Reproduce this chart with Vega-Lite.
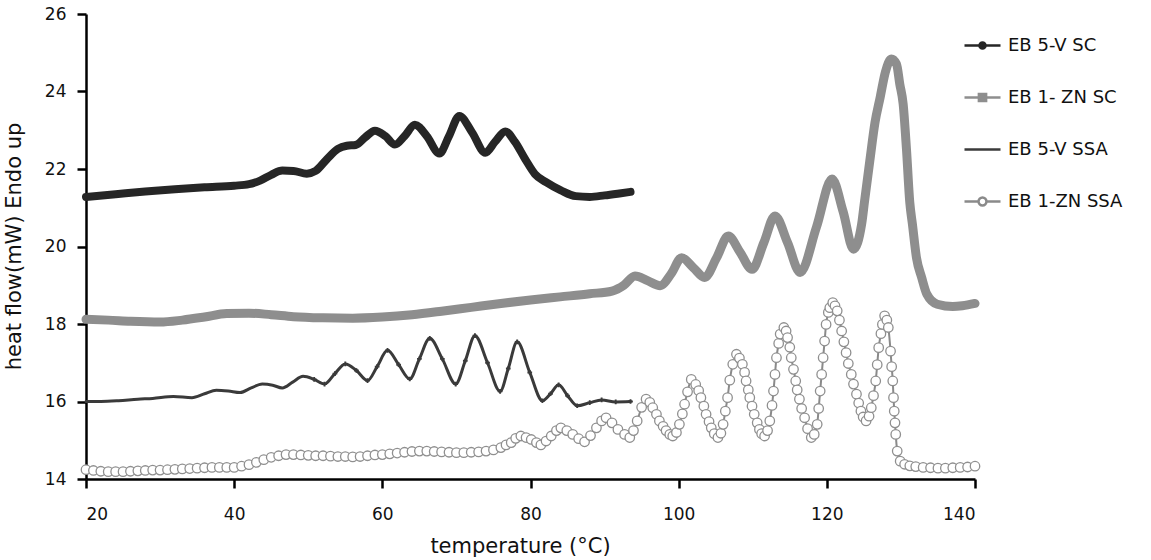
{
  "$schema": "https://vega.github.io/schema/vega-lite/v6.json",
  "autosize": {"type": "none"},
  "width": 889,
  "height": 465,
  "padding": {"left": 86, "top": 14, "right": 176, "bottom": 81},
  "background": "white",
  "config": {
    "view": {"stroke": null},
    "font": "DejaVu Sans",
    "axis": {
      "grid": false,
      "domainColor": "#000",
      "domainWidth": 2.5,
      "tickColor": "#000",
      "tickWidth": 2.5,
      "tickSize": 9,
      "labelFont": "DejaVu Sans",
      "labelFontSize": 17,
      "labelColor": "#111",
      "titleFont": "DejaVu Sans",
      "titleFontSize": 21,
      "titleFontWeight": "normal",
      "titleColor": "#111"
    },
    "legend": {
      "orient": "none", "legendX": 877, "legendY": 12, "title": null,
      "padding": 0, "symbolSize": 1296, "symbolStrokeWidth": 2.5,
      "labelFont": "DejaVu Sans", "labelFontSize": 18, "labelColor": "#111", "labelOffset": 6, "rowPadding": 23
    }
  },
  "data": {
    "values": [
      {"s":"EB 5-V SC","t":20,"v":21.28},{"s":"EB 5-V SC","t":24,"v":21.35},{"s":"EB 5-V SC","t":28,"v":21.42},{"s":"EB 5-V SC","t":32,"v":21.48},{"s":"EB 5-V SC","t":36,"v":21.53},{"s":"EB 5-V SC","t":40,"v":21.57},{"s":"EB 5-V SC","t":42,"v":21.61},{"s":"EB 5-V SC","t":43.5,"v":21.7},{"s":"EB 5-V SC","t":45,"v":21.85},{"s":"EB 5-V SC","t":46.5,"v":21.96},{"s":"EB 5-V SC","t":48,"v":21.95},{"s":"EB 5-V SC","t":49.8,"v":21.88},{"s":"EB 5-V SC","t":51,"v":21.95},{"s":"EB 5-V SC","t":52.5,"v":22.25},{"s":"EB 5-V SC","t":54,"v":22.52},{"s":"EB 5-V SC","t":55.2,"v":22.6},{"s":"EB 5-V SC","t":56.4,"v":22.62},{"s":"EB 5-V SC","t":57.7,"v":22.82},{"s":"EB 5-V SC","t":59,"v":22.99},{"s":"EB 5-V SC","t":60.4,"v":22.85},{"s":"EB 5-V SC","t":61.7,"v":22.63},{"s":"EB 5-V SC","t":63,"v":22.85},{"s":"EB 5-V SC","t":64.4,"v":23.14},{"s":"EB 5-V SC","t":66,"v":22.85},{"s":"EB 5-V SC","t":67.7,"v":22.4},{"s":"EB 5-V SC","t":69,"v":22.85},{"s":"EB 5-V SC","t":70.4,"v":23.37},{"s":"EB 5-V SC","t":72.1,"v":22.95},{"s":"EB 5-V SC","t":73.9,"v":22.42},{"s":"EB 5-V SC","t":75.2,"v":22.7},{"s":"EB 5-V SC","t":76.6,"v":22.97},{"s":"EB 5-V SC","t":77.9,"v":22.7},{"s":"EB 5-V SC","t":79.3,"v":22.25},{"s":"EB 5-V SC","t":80.6,"v":21.87},{"s":"EB 5-V SC","t":82.1,"v":21.66},{"s":"EB 5-V SC","t":84.1,"v":21.45},{"s":"EB 5-V SC","t":86.1,"v":21.3},{"s":"EB 5-V SC","t":88,"v":21.28},{"s":"EB 5-V SC","t":90,"v":21.32},{"s":"EB 5-V SC","t":92,"v":21.37},{"s":"EB 5-V SC","t":93.5,"v":21.41},

      {"s":"EB 1- ZN SC","t":20,"v":18.12},{"s":"EB 1- ZN SC","t":23,"v":18.1},{"s":"EB 1- ZN SC","t":26,"v":18.07},{"s":"EB 1- ZN SC","t":30,"v":18.05},{"s":"EB 1- ZN SC","t":33,"v":18.1},{"s":"EB 1- ZN SC","t":36,"v":18.18},{"s":"EB 1- ZN SC","t":39,"v":18.27},{"s":"EB 1- ZN SC","t":42,"v":18.28},{"s":"EB 1- ZN SC","t":45,"v":18.24},{"s":"EB 1- ZN SC","t":48,"v":18.19},{"s":"EB 1- ZN SC","t":52,"v":18.16},{"s":"EB 1- ZN SC","t":56,"v":18.15},{"s":"EB 1- ZN SC","t":60,"v":18.18},{"s":"EB 1- ZN SC","t":64,"v":18.24},{"s":"EB 1- ZN SC","t":68,"v":18.33},{"s":"EB 1- ZN SC","t":72,"v":18.43},{"s":"EB 1- ZN SC","t":76,"v":18.53},{"s":"EB 1- ZN SC","t":80,"v":18.62},{"s":"EB 1- ZN SC","t":84,"v":18.7},{"s":"EB 1- ZN SC","t":88,"v":18.78},{"s":"EB 1- ZN SC","t":91,"v":18.85},{"s":"EB 1- ZN SC","t":92.6,"v":19.0},{"s":"EB 1- ZN SC","t":94.1,"v":19.24},{"s":"EB 1- ZN SC","t":95.8,"v":19.12},{"s":"EB 1- ZN SC","t":97.5,"v":18.99},{"s":"EB 1- ZN SC","t":99,"v":19.3},{"s":"EB 1- ZN SC","t":100.4,"v":19.71},{"s":"EB 1- ZN SC","t":102,"v":19.45},{"s":"EB 1- ZN SC","t":103.5,"v":19.2},{"s":"EB 1- ZN SC","t":105.1,"v":19.7},{"s":"EB 1- ZN SC","t":106.7,"v":20.27},{"s":"EB 1- ZN SC","t":108.3,"v":19.85},{"s":"EB 1- ZN SC","t":109.9,"v":19.41},{"s":"EB 1- ZN SC","t":111.5,"v":20.1},{"s":"EB 1- ZN SC","t":113,"v":20.79},{"s":"EB 1- ZN SC","t":114.7,"v":20.1},{"s":"EB 1- ZN SC","t":116.4,"v":19.33},{"s":"EB 1- ZN SC","t":118.6,"v":20.5},{"s":"EB 1- ZN SC","t":120.7,"v":21.74},{"s":"EB 1- ZN SC","t":122.2,"v":20.9},{"s":"EB 1- ZN SC","t":123.6,"v":19.93},{"s":"EB 1- ZN SC","t":124.7,"v":20.58},{"s":"EB 1- ZN SC","t":125.1,"v":21.18},{"s":"EB 1- ZN SC","t":125.8,"v":22.21},{"s":"EB 1- ZN SC","t":126.5,"v":23.2},{"s":"EB 1- ZN SC","t":127.2,"v":23.85},{"s":"EB 1- ZN SC","t":127.9,"v":24.5},{"s":"EB 1- ZN SC","t":128.7,"v":24.84},{"s":"EB 1- ZN SC","t":129.4,"v":24.71},{"s":"EB 1- ZN SC","t":129.85,"v":24.19},{"s":"EB 1- ZN SC","t":130.3,"v":23.68},{"s":"EB 1- ZN SC","t":130.75,"v":22.51},{"s":"EB 1- ZN SC","t":131.2,"v":21.13},{"s":"EB 1- ZN SC","t":131.55,"v":20.58},{"s":"EB 1- ZN SC","t":132.1,"v":19.71},{"s":"EB 1- ZN SC","t":132.8,"v":19.2},{"s":"EB 1- ZN SC","t":133.5,"v":18.77},{"s":"EB 1- ZN SC","t":134.9,"v":18.51},{"s":"EB 1- ZN SC","t":137,"v":18.45},{"s":"EB 1- ZN SC","t":138.3,"v":18.47},{"s":"EB 1- ZN SC","t":140,"v":18.53},

      {"s":"EB 5-V SSA","t":20,"v":16.0},{"s":"EB 5-V SSA","t":22,"v":16.0},{"s":"EB 5-V SSA","t":24.4,"v":16.02},{"s":"EB 5-V SSA","t":27,"v":16.06},{"s":"EB 5-V SSA","t":29,"v":16.08},{"s":"EB 5-V SSA","t":31.8,"v":16.13},{"s":"EB 5-V SSA","t":34.3,"v":16.1},{"s":"EB 5-V SSA","t":36,"v":16.2},{"s":"EB 5-V SSA","t":37.6,"v":16.29},{"s":"EB 5-V SSA","t":39.2,"v":16.27},{"s":"EB 5-V SSA","t":40.8,"v":16.23},{"s":"EB 5-V SSA","t":42.3,"v":16.35},{"s":"EB 5-V SSA","t":43.8,"v":16.45},{"s":"EB 5-V SSA","t":45.2,"v":16.42},{"s":"EB 5-V SSA","t":46.5,"v":16.35},{"s":"EB 5-V SSA","t":47.9,"v":16.5},{"s":"EB 5-V SSA","t":49.3,"v":16.65},{"s":"EB 5-V SSA","t":50.8,"v":16.57},{"s":"EB 5-V SSA","t":52.2,"v":16.45},{"s":"EB 5-V SSA","t":53.6,"v":16.72},{"s":"EB 5-V SSA","t":55,"v":16.97},{"s":"EB 5-V SSA","t":56.5,"v":16.8},{"s":"EB 5-V SSA","t":58,"v":16.54},{"s":"EB 5-V SSA","t":59.3,"v":16.9},{"s":"EB 5-V SSA","t":60.7,"v":17.32},{"s":"EB 5-V SSA","t":62.2,"v":16.95},{"s":"EB 5-V SSA","t":63.7,"v":16.58},{"s":"EB 5-V SSA","t":65,"v":17.1},{"s":"EB 5-V SSA","t":66.4,"v":17.63},{"s":"EB 5-V SSA","t":68.1,"v":17.1},{"s":"EB 5-V SSA","t":69.9,"v":16.45},{"s":"EB 5-V SSA","t":71.2,"v":17.05},{"s":"EB 5-V SSA","t":72.5,"v":17.7},{"s":"EB 5-V SSA","t":74.2,"v":17.0},{"s":"EB 5-V SSA","t":75.9,"v":16.26},{"s":"EB 5-V SSA","t":77,"v":16.85},{"s":"EB 5-V SSA","t":78.2,"v":17.54},{"s":"EB 5-V SSA","t":79.9,"v":16.75},{"s":"EB 5-V SSA","t":81.6,"v":16.02},{"s":"EB 5-V SSA","t":82.7,"v":16.2},{"s":"EB 5-V SSA","t":83.8,"v":16.43},{"s":"EB 5-V SSA","t":85,"v":16.15},{"s":"EB 5-V SSA","t":86.3,"v":15.89},{"s":"EB 5-V SSA","t":88,"v":15.97},{"s":"EB 5-V SSA","t":89.6,"v":16.04},{"s":"EB 5-V SSA","t":91.5,"v":15.99},{"s":"EB 5-V SSA","t":93.5,"v":16.0},

      {"s":"EB 1-ZN SSA","t":20,"v":14.24},{"s":"EB 1-ZN SSA","t":21,"v":14.22},{"s":"EB 1-ZN SSA","t":22,"v":14.2},{"s":"EB 1-ZN SSA","t":23,"v":14.19},{"s":"EB 1-ZN SSA","t":24,"v":14.19},{"s":"EB 1-ZN SSA","t":25,"v":14.19},{"s":"EB 1-ZN SSA","t":26,"v":14.2},{"s":"EB 1-ZN SSA","t":27,"v":14.21},{"s":"EB 1-ZN SSA","t":28,"v":14.22},{"s":"EB 1-ZN SSA","t":29,"v":14.23},{"s":"EB 1-ZN SSA","t":30,"v":14.23},{"s":"EB 1-ZN SSA","t":31,"v":14.24},{"s":"EB 1-ZN SSA","t":32,"v":14.25},{"s":"EB 1-ZN SSA","t":33,"v":14.26},{"s":"EB 1-ZN SSA","t":34,"v":14.27},{"s":"EB 1-ZN SSA","t":35,"v":14.28},{"s":"EB 1-ZN SSA","t":36,"v":14.29},{"s":"EB 1-ZN SSA","t":37,"v":14.3},{"s":"EB 1-ZN SSA","t":38,"v":14.3},{"s":"EB 1-ZN SSA","t":39,"v":14.3},{"s":"EB 1-ZN SSA","t":40,"v":14.3},{"s":"EB 1-ZN SSA","t":41,"v":14.33},{"s":"EB 1-ZN SSA","t":42,"v":14.37},{"s":"EB 1-ZN SSA","t":43,"v":14.43},{"s":"EB 1-ZN SSA","t":44,"v":14.5},{"s":"EB 1-ZN SSA","t":45,"v":14.56},{"s":"EB 1-ZN SSA","t":46,"v":14.6},{"s":"EB 1-ZN SSA","t":47,"v":14.63},{"s":"EB 1-ZN SSA","t":48,"v":14.63},{"s":"EB 1-ZN SSA","t":49,"v":14.62},{"s":"EB 1-ZN SSA","t":50,"v":14.61},{"s":"EB 1-ZN SSA","t":51,"v":14.6},{"s":"EB 1-ZN SSA","t":52,"v":14.6},{"s":"EB 1-ZN SSA","t":53,"v":14.59},{"s":"EB 1-ZN SSA","t":54,"v":14.58},{"s":"EB 1-ZN SSA","t":55,"v":14.58},{"s":"EB 1-ZN SSA","t":56,"v":14.57},{"s":"EB 1-ZN SSA","t":57,"v":14.58},{"s":"EB 1-ZN SSA","t":58,"v":14.6},{"s":"EB 1-ZN SSA","t":59,"v":14.62},{"s":"EB 1-ZN SSA","t":60,"v":14.63},{"s":"EB 1-ZN SSA","t":61,"v":14.65},{"s":"EB 1-ZN SSA","t":62,"v":14.67},{"s":"EB 1-ZN SSA","t":63,"v":14.69},{"s":"EB 1-ZN SSA","t":64,"v":14.71},{"s":"EB 1-ZN SSA","t":65,"v":14.72},{"s":"EB 1-ZN SSA","t":66,"v":14.72},{"s":"EB 1-ZN SSA","t":67,"v":14.71},{"s":"EB 1-ZN SSA","t":68,"v":14.7},{"s":"EB 1-ZN SSA","t":69,"v":14.69},{"s":"EB 1-ZN SSA","t":70,"v":14.68},{"s":"EB 1-ZN SSA","t":71,"v":14.68},{"s":"EB 1-ZN SSA","t":72,"v":14.69},{"s":"EB 1-ZN SSA","t":73,"v":14.7},{"s":"EB 1-ZN SSA","t":74,"v":14.72},{"s":"EB 1-ZN SSA","t":75,"v":14.75},{"s":"EB 1-ZN SSA","t":76,"v":14.81},{"s":"EB 1-ZN SSA","t":76.7,"v":14.88},{"s":"EB 1-ZN SSA","t":77.4,"v":14.94},{"s":"EB 1-ZN SSA","t":78,"v":15.05},{"s":"EB 1-ZN SSA","t":78.7,"v":15.11},{"s":"EB 1-ZN SSA","t":79.4,"v":15.07},{"s":"EB 1-ZN SSA","t":80.1,"v":15.02},{"s":"EB 1-ZN SSA","t":80.8,"v":14.94},{"s":"EB 1-ZN SSA","t":81.4,"v":14.88},{"s":"EB 1-ZN SSA","t":82.1,"v":14.98},{"s":"EB 1-ZN SSA","t":82.8,"v":15.11},{"s":"EB 1-ZN SSA","t":83.5,"v":15.25},{"s":"EB 1-ZN SSA","t":84.1,"v":15.32},{"s":"EB 1-ZN SSA","t":84.9,"v":15.25},{"s":"EB 1-ZN SSA","t":85.7,"v":15.15},{"s":"EB 1-ZN SSA","t":86.5,"v":15.04},{"s":"EB 1-ZN SSA","t":87.3,"v":14.96},{"s":"EB 1-ZN SSA","t":88.1,"v":15.12},{"s":"EB 1-ZN SSA","t":88.9,"v":15.32},{"s":"EB 1-ZN SSA","t":89.6,"v":15.5},{"s":"EB 1-ZN SSA","t":90.2,"v":15.58},{"s":"EB 1-ZN SSA","t":91,"v":15.45},{"s":"EB 1-ZN SSA","t":91.8,"v":15.28},{"s":"EB 1-ZN SSA","t":92.7,"v":15.15},{"s":"EB 1-ZN SSA","t":93.4,"v":15.07},{"s":"EB 1-ZN SSA","t":93.9,"v":15.25},{"s":"EB 1-ZN SSA","t":94.4,"v":15.5},{"s":"EB 1-ZN SSA","t":95.0,"v":15.85},{"s":"EB 1-ZN SSA","t":95.6,"v":16.06},{"s":"EB 1-ZN SSA","t":96.1,"v":15.98},{"s":"EB 1-ZN SSA","t":96.5,"v":15.84},{"s":"EB 1-ZN SSA","t":97.0,"v":15.67},{"s":"EB 1-ZN SSA","t":97.4,"v":15.5},{"s":"EB 1-ZN SSA","t":97.9,"v":15.36},{"s":"EB 1-ZN SSA","t":98.3,"v":15.25},{"s":"EB 1-ZN SSA","t":98.8,"v":15.15},{"s":"EB 1-ZN SSA","t":99.2,"v":15.11},{"s":"EB 1-ZN SSA","t":99.7,"v":15.2},{"s":"EB 1-ZN SSA","t":100.1,"v":15.41},{"s":"EB 1-ZN SSA","t":100.5,"v":15.68},{"s":"EB 1-ZN SSA","t":100.8,"v":15.93},{"s":"EB 1-ZN SSA","t":101.2,"v":16.25},{"s":"EB 1-ZN SSA","t":101.7,"v":16.57},{"s":"EB 1-ZN SSA","t":102.3,"v":16.44},{"s":"EB 1-ZN SSA","t":102.7,"v":16.28},{"s":"EB 1-ZN SSA","t":103.0,"v":16.1},{"s":"EB 1-ZN SSA","t":103.4,"v":15.88},{"s":"EB 1-ZN SSA","t":103.7,"v":15.67},{"s":"EB 1-ZN SSA","t":104.1,"v":15.48},{"s":"EB 1-ZN SSA","t":104.4,"v":15.32},{"s":"EB 1-ZN SSA","t":104.8,"v":15.17},{"s":"EB 1-ZN SSA","t":105.3,"v":15.07},{"s":"EB 1-ZN SSA","t":105.7,"v":15.18},{"s":"EB 1-ZN SSA","t":106.0,"v":15.41},{"s":"EB 1-ZN SSA","t":106.3,"v":15.75},{"s":"EB 1-ZN SSA","t":106.6,"v":16.1},{"s":"EB 1-ZN SSA","t":106.9,"v":16.55},{"s":"EB 1-ZN SSA","t":107.3,"v":16.96},{"s":"EB 1-ZN SSA","t":107.8,"v":17.22},{"s":"EB 1-ZN SSA","t":108.2,"v":17.12},{"s":"EB 1-ZN SSA","t":108.6,"v":16.96},{"s":"EB 1-ZN SSA","t":108.9,"v":16.75},{"s":"EB 1-ZN SSA","t":109.1,"v":16.53},{"s":"EB 1-ZN SSA","t":109.4,"v":16.3},{"s":"EB 1-ZN SSA","t":109.6,"v":16.1},{"s":"EB 1-ZN SSA","t":109.9,"v":15.88},{"s":"EB 1-ZN SSA","t":110.2,"v":15.67},{"s":"EB 1-ZN SSA","t":110.6,"v":15.45},{"s":"EB 1-ZN SSA","t":110.9,"v":15.28},{"s":"EB 1-ZN SSA","t":111.2,"v":15.17},{"s":"EB 1-ZN SSA","t":111.6,"v":15.11},{"s":"EB 1-ZN SSA","t":112.0,"v":15.25},{"s":"EB 1-ZN SSA","t":112.3,"v":15.5},{"s":"EB 1-ZN SSA","t":112.6,"v":15.9},{"s":"EB 1-ZN SSA","t":112.8,"v":16.27},{"s":"EB 1-ZN SSA","t":113.0,"v":16.7},{"s":"EB 1-ZN SSA","t":113.2,"v":17.13},{"s":"EB 1-ZN SSA","t":113.5,"v":17.5},{"s":"EB 1-ZN SSA","t":113.7,"v":17.74},{"s":"EB 1-ZN SSA","t":114.2,"v":17.91},{"s":"EB 1-ZN SSA","t":114.5,"v":17.82},{"s":"EB 1-ZN SSA","t":114.7,"v":17.65},{"s":"EB 1-ZN SSA","t":115.0,"v":17.4},{"s":"EB 1-ZN SSA","t":115.2,"v":17.13},{"s":"EB 1-ZN SSA","t":115.5,"v":16.83},{"s":"EB 1-ZN SSA","t":115.8,"v":16.53},{"s":"EB 1-ZN SSA","t":116.0,"v":16.3},{"s":"EB 1-ZN SSA","t":116.3,"v":16.06},{"s":"EB 1-ZN SSA","t":116.6,"v":15.82},{"s":"EB 1-ZN SSA","t":117.0,"v":15.58},{"s":"EB 1-ZN SSA","t":117.4,"v":15.3},{"s":"EB 1-ZN SSA","t":117.9,"v":15.07},{"s":"EB 1-ZN SSA","t":118.3,"v":15.15},{"s":"EB 1-ZN SSA","t":118.7,"v":15.41},{"s":"EB 1-ZN SSA","t":118.9,"v":15.82},{"s":"EB 1-ZN SSA","t":119.1,"v":16.27},{"s":"EB 1-ZN SSA","t":119.3,"v":16.7},{"s":"EB 1-ZN SSA","t":119.5,"v":17.13},{"s":"EB 1-ZN SSA","t":119.7,"v":17.56},{"s":"EB 1-ZN SSA","t":119.9,"v":17.99},{"s":"EB 1-ZN SSA","t":120.2,"v":18.3},{"s":"EB 1-ZN SSA","t":120.4,"v":18.42},{"s":"EB 1-ZN SSA","t":120.8,"v":18.55},{"s":"EB 1-ZN SSA","t":121.1,"v":18.47},{"s":"EB 1-ZN SSA","t":121.4,"v":18.34},{"s":"EB 1-ZN SSA","t":121.7,"v":18.1},{"s":"EB 1-ZN SSA","t":122.0,"v":17.82},{"s":"EB 1-ZN SSA","t":122.3,"v":17.54},{"s":"EB 1-ZN SSA","t":122.6,"v":17.26},{"s":"EB 1-ZN SSA","t":122.9,"v":16.98},{"s":"EB 1-ZN SSA","t":123.3,"v":16.7},{"s":"EB 1-ZN SSA","t":123.6,"v":16.45},{"s":"EB 1-ZN SSA","t":124.0,"v":16.19},{"s":"EB 1-ZN SSA","t":124.3,"v":15.96},{"s":"EB 1-ZN SSA","t":124.6,"v":15.75},{"s":"EB 1-ZN SSA","t":124.9,"v":15.6},{"s":"EB 1-ZN SSA","t":125.3,"v":15.5},{"s":"EB 1-ZN SSA","t":125.7,"v":15.62},{"s":"EB 1-ZN SSA","t":126.0,"v":15.84},{"s":"EB 1-ZN SSA","t":126.3,"v":16.15},{"s":"EB 1-ZN SSA","t":126.6,"v":16.53},{"s":"EB 1-ZN SSA","t":126.8,"v":16.95},{"s":"EB 1-ZN SSA","t":127.0,"v":17.39},{"s":"EB 1-ZN SSA","t":127.3,"v":17.75},{"s":"EB 1-ZN SSA","t":127.5,"v":17.99},{"s":"EB 1-ZN SSA","t":127.8,"v":18.21},{"s":"EB 1-ZN SSA","t":128.1,"v":18.1},{"s":"EB 1-ZN SSA","t":128.3,"v":17.91},{"s":"EB 1-ZN SSA","t":128.6,"v":17.3},{"s":"EB 1-ZN SSA","t":128.75,"v":16.9},{"s":"EB 1-ZN SSA","t":128.9,"v":16.53},{"s":"EB 1-ZN SSA","t":129.0,"v":16.1},{"s":"EB 1-ZN SSA","t":129.1,"v":15.75},{"s":"EB 1-ZN SSA","t":129.2,"v":15.45},{"s":"EB 1-ZN SSA","t":129.3,"v":15.15},{"s":"EB 1-ZN SSA","t":129.5,"v":14.72},{"s":"EB 1-ZN SSA","t":129.9,"v":14.46},{"s":"EB 1-ZN SSA","t":130.5,"v":14.38},{"s":"EB 1-ZN SSA","t":131.2,"v":14.34},{"s":"EB 1-ZN SSA","t":132,"v":14.32},{"s":"EB 1-ZN SSA","t":133,"v":14.3},{"s":"EB 1-ZN SSA","t":134,"v":14.29},{"s":"EB 1-ZN SSA","t":135,"v":14.28},{"s":"EB 1-ZN SSA","t":136,"v":14.28},{"s":"EB 1-ZN SSA","t":137,"v":14.29},{"s":"EB 1-ZN SSA","t":138,"v":14.3},{"s":"EB 1-ZN SSA","t":139,"v":14.31},{"s":"EB 1-ZN SSA","t":140,"v":14.33}
    ]
  },
  "encoding": {
    "x": {
      "field": "t", "type": "quantitative",
      "scale": {"domain": [20, 140], "nice": false, "zero": false},
      "axis": {"values": [20, 40, 60, 80, 100, 120, 140], "title": "temperature (°C)", "labelPadding": 18, "titleX": 434, "titleY": 73, "titleBaseline": "alphabetic", "titleAlign": "center"}
    },
    "y": {
      "field": "v", "type": "quantitative",
      "scale": {"domain": [14, 26], "nice": false, "zero": false},
      "axis": {"values": [14, 16, 18, 20, 22, 24, 26], "title": "heat flow(mW) Endo up", "labelPadding": 11, "titleX": -66, "titleY": 232, "titleBaseline": "alphabetic", "titleAlign": "center", "titleAngle": -90}
    }
  },
  "layer": [
    {
      "transform": [{"filter": "datum.s === 'EB 5-V SC'"}],
      "mark": {"type": "line", "interpolate": "monotone", "strokeCap": "round", "strokeJoin": "round", "strokeWidth": 8},
      "encoding": {
        "color": {
          "field": "s", "type": "nominal",
          "scale": {"domain": ["EB 5-V SC", "EB 1- ZN SC", "EB 5-V SSA", "EB 1-ZN SSA"], "range": ["#262626", "#8e8e8e", "#3a3a3a", "#8a8a8a"]},
          "legend": {
            "encode": {
              "symbols": {
                "update": {
                  "shape": {"signal": "datum.value === 'EB 5-V SC' ? 'M-1,0H1M0.17,0A0.17,0.17,0,1,1,-0.17,0A0.17,0.17,0,1,1,0.17,0Z' : datum.value === 'EB 1- ZN SC' ? 'M-1,0H1M-0.2,-0.2H0.2V0.2H-0.2Z' : datum.value === 'EB 5-V SSA' ? 'M-1,0H1' : 'M-1,0H-0.22M0.22,0H1M0.22,0A0.22,0.22,0,1,1,-0.22,0A0.22,0.22,0,1,1,0.22,0Z'"},
                  "fill": {"signal": "datum.value === 'EB 5-V SC' ? '#262626' : datum.value === 'EB 1- ZN SC' ? '#8e8e8e' : datum.value === 'EB 5-V SSA' ? 'transparent' : 'white'"},
                  "strokeWidth": {"value": 2.5},
                  "opacity": {"value": 1}
                }
              }
            }
          }
        }
      }
    },
    {
      "transform": [{"filter": "datum.s === 'EB 1- ZN SC'"}],
      "mark": {"type": "line", "interpolate": "monotone", "strokeCap": "round", "strokeJoin": "round", "strokeWidth": 9},
      "encoding": {"color": {"field": "s", "type": "nominal"}}
    },
    {
      "transform": [{"filter": "datum.s === 'EB 5-V SSA'"}],
      "mark": {"type": "line", "interpolate": "monotone", "strokeCap": "round", "strokeJoin": "round", "strokeWidth": 3},
      "encoding": {"color": {"field": "s", "type": "nominal"}}
    },
    {
      "transform": [{"filter": "datum.s === 'EB 5-V SSA' && datum.t > 50"}],
      "mark": {"type": "point", "shape": "cross", "filled": true, "fill": "#3a3a3a", "stroke": null, "size": 22, "opacity": 1}
    },
    {
      "transform": [{"filter": "datum.s === 'EB 1-ZN SSA'"}],
      "mark": {"type": "line", "interpolate": "monotone", "strokeCap": "round", "strokeJoin": "round", "strokeWidth": 2},
      "encoding": {"color": {"field": "s", "type": "nominal"}}
    },
    {
      "transform": [{"filter": "datum.s === 'EB 1-ZN SSA'"}],
      "mark": {"type": "point", "shape": "circle", "filled": true, "fill": "white", "stroke": "#8f8f8f", "strokeWidth": 1.3, "size": 90, "opacity": 1}
    }
  ]
}
